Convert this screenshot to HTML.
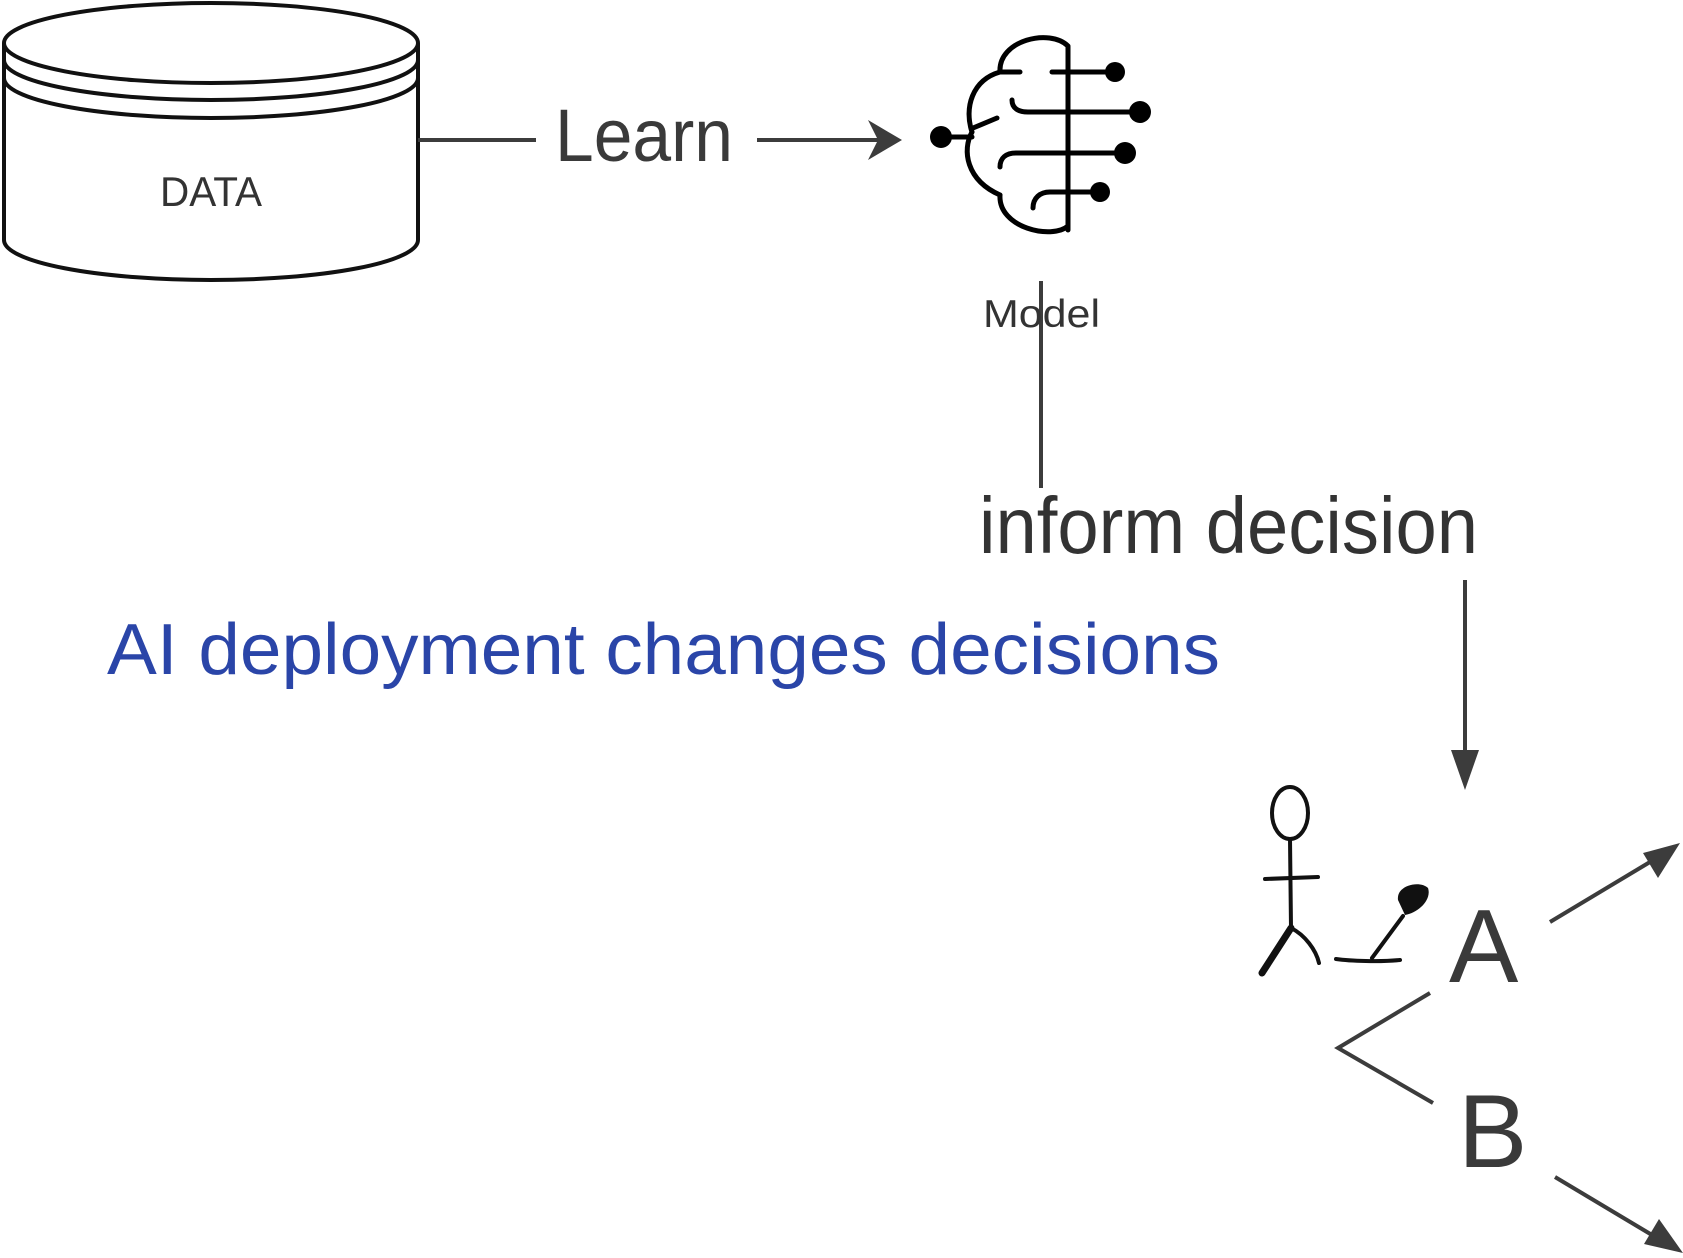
<!DOCTYPE html>
<html><head><meta charset="utf-8"><style>
html,body{margin:0;padding:0;background:#fff;}
svg{display:block;}
text{font-family:"Liberation Sans",sans-serif;}
</style></head><body>
<svg width="1683" height="1258" viewBox="0 0 1683 1258" xmlns="http://www.w3.org/2000/svg">
<!-- cylinder -->
<g fill="none" stroke="#111" stroke-width="4">
<path d="M4,43 L4,240 A207,40 0 0 0 418,240 L418,43"/>
<ellipse cx="211" cy="43" rx="207" ry="40" fill="#fff"/>
<path d="M4,60 A207,40 0 0 0 418,60"/>
<path d="M4,78 A207,40 0 0 0 418,78"/>
</g>
<text x="211" y="206" font-size="42" fill="#333" text-anchor="middle" textLength="102" lengthAdjust="spacingAndGlyphs">DATA</text>
<g stroke="#3c3c3c" stroke-width="4" fill="none">
<line x1="418" y1="140" x2="536" y2="140"/>
<line x1="757" y1="140" x2="895" y2="140"/>
<line x1="1041" y1="281" x2="1041" y2="488"/>
<line x1="1465" y1="580" x2="1465" y2="760"/>
<polyline points="1430,993 1338,1048 1433,1103"/>
<line x1="1550" y1="922" x2="1650" y2="862"/>
<line x1="1555" y1="1177" x2="1652" y2="1235"/>
</g>
<g fill="#3c3c3c">
<path d="M902,140 L868,120 L878,140 L868,160 Z"/>
<path d="M1465,790 L1451,750 L1479,750 Z"/>
<path d="M1680,843 L1658,878 L1643,853 Z"/>
<path d="M1683,1253 L1644,1244 L1659,1219 Z"/>
</g>
<text x="555" y="161" font-size="74" fill="#3a3a3a" textLength="178" lengthAdjust="spacingAndGlyphs">Learn</text>
<text x="983" y="327" font-size="39" fill="#333" textLength="117" lengthAdjust="spacingAndGlyphs">Model</text>
<text x="979" y="553" font-size="80" fill="#333" textLength="499" lengthAdjust="spacingAndGlyphs">inform decision</text>
<text x="107" y="674" font-size="72" fill="#2a45a8" textLength="1113" lengthAdjust="spacingAndGlyphs">AI deployment changes decisions</text>
<text x="1449" y="982" font-size="104" fill="#3a3a3a">A</text>
<text x="1458" y="1167" font-size="104" fill="#3a3a3a">B</text>
<!-- brain -->
<g fill="none" stroke="#000" stroke-width="5" stroke-linecap="round">
<line x1="1068" y1="47" x2="1068" y2="230"/>
<path d="M1000,72 C998,40 1050,28 1068,46"/>
<path d="M1020,72 L1000,72 C972,80 964,108 972,132"/>
<path d="M972,132 C962,150 966,180 1000,195"/>
<path d="M1000,195 C998,228 1052,240 1068,226"/>
<line x1="1052" y1="72" x2="1115" y2="72"/>
<path d="M1012,100 C1012,108 1018,112 1028,112 L1140,112"/>
<path d="M1000,167 C1000,158 1006,153 1016,153 L1125,153"/>
<path d="M1033,208 C1033,198 1040,192 1050,192 L1100,192"/>
<line x1="941" y1="137" x2="972" y2="137"/>
<line x1="973" y1="128" x2="997" y2="118"/>
</g>
<g fill="#000">
<circle cx="1115" cy="72" r="10"/>
<circle cx="1140" cy="112" r="11"/>
<circle cx="1125" cy="153" r="11"/>
<circle cx="1100" cy="192" r="10"/>
<circle cx="941" cy="137" r="11"/>
</g>
<!-- stick figure -->
<g fill="none" stroke="#111" stroke-width="4" stroke-linecap="round">
<ellipse cx="1290" cy="813" rx="18" ry="26"/>
<path d="M1290,839 L1291,928"/>
<line x1="1265" y1="879" x2="1318" y2="877"/>
<line x1="1291" y1="928" x2="1262" y2="973" stroke-width="7"/>
<path d="M1291,928 C1305,935 1316,950 1319,963"/>
<path d="M1336,959 C1350,961 1380,962 1400,960"/>
<line x1="1372" y1="958" x2="1403" y2="916"/>
</g>
<path d="M1398,900 C1396,885 1420,880 1428,888 C1432,900 1418,913 1405,915 Z" fill="#111"/>
</svg>
</body></html>
